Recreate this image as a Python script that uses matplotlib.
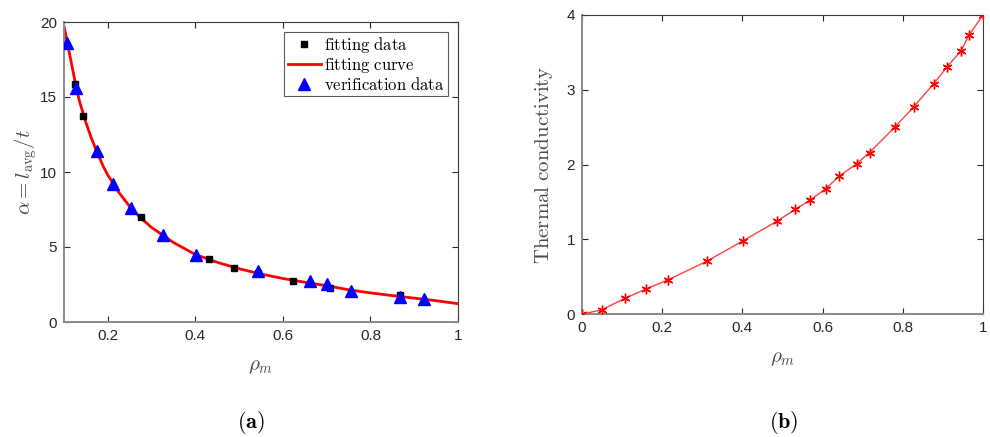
import matplotlib
matplotlib.use("Agg")
import matplotlib.pyplot as plt

plt.rcParams['mathtext.fontset'] = 'cm'
plt.rcParams['font.family'] = ['Liberation Sans', 'DejaVu Sans']

# ---------------- data (a) ----------------
fit_x = [0.1244, 0.144, 0.276, 0.432, 0.489, 0.544, 0.622, 0.7076, 0.867]
fit_y = [15.85, 13.75, 6.98, 4.18, 3.58, 3.25, 2.75, 2.27, 1.82]

curve_x = [0.1, 0.105, 0.11, 0.118, 0.125, 0.135, 0.15, 0.162, 0.175, 0.19, 0.2, 0.225,
           0.25, 0.275, 0.3, 0.35, 0.4, 0.45, 0.5, 0.55, 0.6, 0.65, 0.7, 0.75,
           0.8, 0.85, 0.9, 0.95, 1.0]
curve_y = [19.7, 19.0, 18.25, 17.1, 16.05, 14.75, 13.3, 12.3, 11.35, 10.35, 9.8, 8.65,
           7.7, 6.95, 6.3, 5.3, 4.5, 3.98, 3.55, 3.2, 2.9, 2.65, 2.42, 2.15,
           1.94, 1.76, 1.59, 1.42, 1.22]

ver_x = [0.1075, 0.1274, 0.1747, 0.2127, 0.2538, 0.326, 0.4015, 0.543, 0.662, 0.70,
         0.755, 0.867, 0.923]
ver_y = [18.62, 15.58, 11.4, 9.18, 7.61, 5.78, 4.47, 3.37, 2.75, 2.55, 2.07, 1.64, 1.51]

# ---------------- data (b) ----------------
tc_x = [0.0, 0.049, 0.107, 0.16, 0.215, 0.311, 0.401, 0.486, 0.532, 0.569, 0.608,
        0.642, 0.685, 0.717, 0.78, 0.827, 0.877, 0.911, 0.945, 0.965, 1.0]
tc_y = [0.0, 0.054, 0.21, 0.334, 0.458, 0.705, 0.977, 1.24, 1.40, 1.525, 1.676,
        1.846, 2.01, 2.16, 2.50, 2.77, 3.08, 3.31, 3.52, 3.73, 4.0]

xticks_a = [0.2, 0.4, 0.6, 0.8, 1.0]
xticklabels_a = ['0.2', '0.4', '0.6', '0.8', '1']
yticks_a = [0, 5, 10, 15, 20]
xticks_b = [0, 0.2, 0.4, 0.6, 0.8, 1.0]
xticklabels_b = ['0', '0.2', '0.4', '0.6', '0.8', '1']
yticks_b = [0, 1, 2, 3, 4]

W, H = 990, 437
fig = plt.figure(figsize=(W / 100, H / 100), dpi=100)

def px_axes(l, t, r, b):
    return fig.add_axes([l / W, 1 - b / H, (r - l) / W, (b - t) / H])

tick_col = '#262626'
lab_col = '#4a4a4a'

def style(ax):
    ax.tick_params(direction='in', length=4, width=0.8, top=True, right=True,
                   labelsize=11, colors=tick_col, pad=5)
    for s in ['top', 'right']:
        ax.spines[s].set_color('#3a3a3a')
        ax.spines[s].set_linewidth(0.8)
    for s in ['left', 'bottom']:
        ax.spines[s].set_color('#8a8a8a')
        ax.spines[s].set_linewidth(1.4)

# ---- panel (a) ----
ax1 = px_axes(64, 22, 458, 322)
ax1.plot(fit_x, fit_y, 's', color='black', ms=4.5, label='fitting data', zorder=3)
ax1.plot(curve_x, curve_y, '-', color='red', lw=2, label='fitting curve', zorder=2)
ax1.plot(ver_x, ver_y, '^', color='blue', ms=9, label='verification data', zorder=4)
ax1.set_xlim(0.1, 1.0)
ax1.set_ylim(0, 20)
ax1.set_xticks(xticks_a)
ax1.set_xticklabels(xticklabels_a)
ax1.set_yticks(yticks_a)
style(ax1)
ax1.set_xlabel(r'$\rho_m$', fontsize=15, color=lab_col, labelpad=10)
ax1.set_ylabel(r'$\alpha = l_{\mathrm{avg}}/t$', fontsize=15, color=lab_col, labelpad=1)
leg = ax1.legend(loc='upper right', prop={'size': 12},
                 frameon=True, fancybox=False, edgecolor='#333333',
                 borderpad=0.2, labelspacing=0.05, handlelength=2.0,
                 handletextpad=0.2, borderaxespad=0.6)
leg.get_frame().set_linewidth(0.8)
for t in leg.get_texts():
    t.set_text('$\\mathrm{' + t.get_text().replace(' ', '\\ ') + '}$')

# ---- panel (b) ----
ax2 = px_axes(582, 15, 983, 314)
ax2.plot(tc_x, tc_y, '-', color='#ff4040', lw=1.0, zorder=2)
ax2.plot(tc_x, tc_y, marker=(6, 2, 0), ls='none', color='red', ms=7, mew=1.0, zorder=3)
ax2.set_xlim(0, 1)
ax2.set_ylim(0, 4)
ax2.set_xticks(xticks_b)
ax2.set_xticklabels(xticklabels_b)
ax2.set_yticks(yticks_b)
style(ax2)
ax2.set_xlabel(r'$\rho_m$', fontsize=15, color=lab_col, labelpad=10)
ax2.set_ylabel(r'$\mathrm{Thermal\ conductivity}$', fontsize=15, color=lab_col, labelpad=8)

# captions
fig.text(251 / W, 1 - 423 / H, r'$\mathrm{(}\mathbf{a}\mathrm{)}$', ha='center',
         va='center', fontsize=16)
fig.text(784 / W, 1 - 423 / H, r'$\mathrm{(}\mathbf{b}\mathrm{)}$', ha='center',
         va='center', fontsize=16)
fig.savefig('out.png', dpi=100)
